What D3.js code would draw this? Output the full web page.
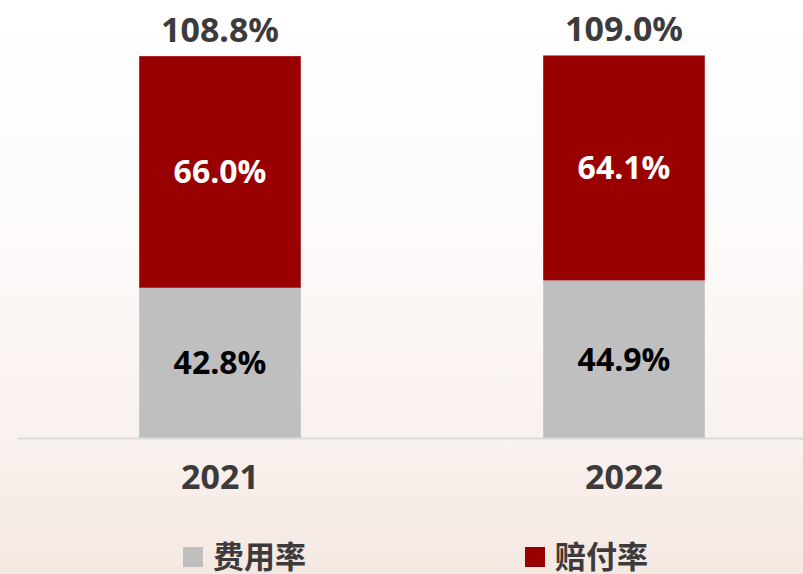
<html>
  <head>
    <script src="https://d3js.org/d3.v7.min.js"></script>
    <style>
      body { margin: 0; overflow: hidden; }
    </style>
  </head>
  <body>
    <div id="vis"></div>
  </body>
  <script>
    // Chart data
    var years = ["2021", "2022"]
    var expenseRate = [42.8, 44.9]   // 费用率
    var claimRate = [66.0, 64.1]     // 赔付率
    var totals = ["108.8%", "109.0%"]
    var seriesNames = ["费用率", "赔付率"]
    var seriesColors = ["#bfbfbf", "#990000"]

    var width = 803
    var height = 574
    var baseY = 438

    var svg = d3.select("#vis")
      .append("svg")
      .attr("width", width)
      .attr("height", height)

    // Background gradient
    var defs = svg.append("defs")
    var grad = defs.append("linearGradient")
      .attr("id", "bg")
      .attr("x1", 0).attr("y1", 0).attr("x2", 0).attr("y2", 1)
    grad.append("stop").attr("offset", "0%").attr("stop-color", "#ffffff")
    grad.append("stop").attr("offset", "30%").attr("stop-color", "#fdfcfc")
    grad.append("stop").attr("offset", "75%").attr("stop-color", "#faf2ef")
    grad.append("stop").attr("offset", "100%").attr("stop-color", "#f4e8e1")

    svg.append("rect")
      .attr("width", width)
      .attr("height", height)
      .attr("fill", "url(#bg)")

    // Scales
    var x = d3.scaleBand()
      .domain(years)
      .range([18, 826])
      .paddingInner(0.6)
      .paddingOuter(0.3)

    var y = d3.scaleLinear()
      .domain([0, 124.8])
      .range([baseY, 0])

    var rows = years.map(function(yr, i) {
      return { year: yr, expense: expenseRate[i], claim: claimRate[i], total: totals[i] }
    })

    var stack = d3.stack().keys(["expense", "claim"])(rows)

    var g = svg.append("g")

    stack.forEach(function(layer, li) {
      g.selectAll(".bar" + li)
        .data(layer)
        .enter()
        .append("rect")
        .attr("x", function(d) { return x(d.data.year) })
        .attr("y", function(d) { return y(d[1]) })
        .attr("width", x.bandwidth())
        .attr("height", function(d) { return y(d[0]) - y(d[1]) })
        .attr("fill", seriesColors[li])

      g.selectAll(".lbl" + li)
        .data(layer)
        .enter()
        .append("text")
        .attr("x", function(d) { return x(d.data.year) + x.bandwidth() / 2 })
        .attr("y", function(d) { return (y(d[0]) + y(d[1])) / 2 })
        .attr("dy", "0.36em")
        .attr("text-anchor", "middle")
        .attr("font-family", '"Open Sans", sans-serif')
        .attr("font-weight", "bold")
        .attr("font-size", "32px")
        .attr("fill", li == 0 ? "#000000" : "#ffffff")
        .text(function(d) { return (d[1] - d[0]).toFixed(1) + "%" })
    })

    // Totals on top
    g.selectAll(".total")
      .data(rows)
      .enter()
      .append("text")
      .attr("x", function(d) { return x(d.year) + x.bandwidth() / 2 })
      .attr("y", function(d) { return y(d.expense + d.claim) - 14 })
      .attr("text-anchor", "middle")
      .attr("font-family", '"Noto Sans", sans-serif')
      .attr("font-weight", "bold")
      .attr("font-size", "34px")
      .attr("fill", "#3d3a3c")
      .text(function(d) { return d.total })

    // Axis
    var axis = svg.append("g")
      .attr("transform", "translate(0," + baseY + ")")
      .call(d3.axisBottom(x).tickSize(0).tickPadding(27))
    axis.select(".domain")
      .attr("d", "M18,0.5H803")
      .attr("stroke", "#d9d9d9")
      .attr("stroke-width", 2)
    axis.selectAll("text")
      .attr("font-family", '"Noto Sans", sans-serif')
      .attr("font-weight", "bold")
      .attr("font-size", "34px")
      .attr("fill", "#3d3a3c")

    // Legend
    var legendX = [183, 525]
    var legend = svg.selectAll(".legend")
      .data(seriesNames)
      .enter()
      .append("g")
      .attr("transform", function(d, i) { return "translate(" + legendX[i] + ",547)" })

    legend.append("rect")
      .attr("width", 20)
      .attr("height", 20)
      .attr("fill", function(d, i) { return seriesColors[i] })

    legend.append("text")
      .attr("x", 30)
      .attr("y", 10)
      .attr("dy", "0.36em")
      .attr("font-family", '"Noto Sans CJK SC", sans-serif')
      .attr("font-weight", "bold")
      .attr("font-size", "31px")
      .attr("fill", "#3d3a3c")
      .text(function(d) { return d })
  </script>
</html>
